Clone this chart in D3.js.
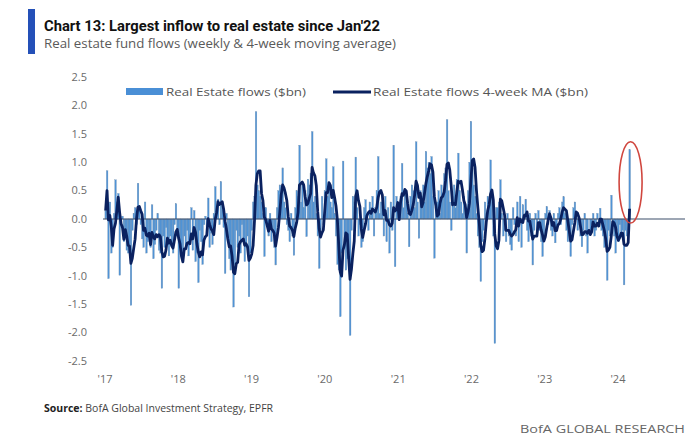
<!DOCTYPE html>
<html><head><meta charset="utf-8">
<script src="https://cdn.jsdelivr.net/npm/d3@7"></script>
<style>body{margin:0;background:#fff}svg{display:block}</style>
</head><body><svg id="c" width="687" height="440"></svg>
<script>
// Weekly real estate fund flows ($bn), Jan 2017 - Feb 2024
const flows2017 = [0.15,0.85,-1.05,0.3,-0.6,-0.5,0.1,0.69,0.3,0.45,
  -0.99,-0.1,0.05,-0.4,-0.3,-0.55,-0.6,-0.45,-1.52,-0.2,
  0.1,0.2,-0.1,0.63,0.15,-0.1,-0.35,-0.5,0.3,-0.6,
  -0.4,-0.3,-0.5,0.25,-0.7,-0.45,-0.2,0.1,-0.55,-0.6,
  -1.22,-0.3,-0.5,-0.15,-0.4,-0.65,-0.3,-0.5,-0.6,-0.1,
  0.27,-0.3];
const flows2018 = [-1.22,-0.5,-0.6,-0.7,-0.3,-0.5,-0.2,-0.65,-0.4,0.2,
  -0.55,0.15,-0.75,-0.6,-1.12,-0.2,-0.4,-0.8,-0.1,0.05,
  -0.3,0.37,-0.5,-0.25,-0.45,0.1,0.57,0.2,0.35,-0.1,
  0.66,0.3,-0.15,-0.96,0.1,-0.4,-0.7,-0.9,-0.6,-1.55,
  -0.8,-0.2,-0.5,-0.3,-0.6,-0.1,-0.4,-0.75,-0.5,-0.3,
  -1.37,-0.6];
const flows2019 = [-0.2,0.3,0.4,1.89,0.6,0.5,0.4,0.3,0.1,-0.66,
  0.2,-0.1,-0.3,0.1,-0.4,-0.2,-0.5,-0.81,0.2,0.5,
  0.6,0.4,0.9,0.3,0.2,-0.1,-0.2,-0.4,0.1,-0.3,
  -0.64,0.2,0.5,0.4,1.3,0.3,0.6,0.2,0.5,-0.31,
  0.7,0.6,0.8,1.54,0.3,0.4,0.1,-0.3,-0.87,-0.2,
  0.4,-0.1];
const flows2020 = [0.5,1.06,0.4,0.6,0.3,0.2,0.92,0.1,-0.3,-0.8,
  -0.9,-1.72,-0.6,1.02,-0.5,-0.9,-0.7,-0.6,-2.05,-0.2,
  0.4,0.3,1.09,0.2,-0.3,-0.1,-0.5,-0.4,0.2,0.34,
  0.1,-0.2,0.3,0.2,0.4,-0.3,0.2,0.5,1.1,0.1,
  0.3,0.2,-0.3,0.4,-0.4,0.2,-0.6,0.3,-0.2,1.3,
  -0.84,0.4];
const flows2021 = [0.3,0.1,0.4,0.98,0.2,0.5,0.3,0.1,-0.49,0.4,
  0.6,0.5,0.2,1.36,0.3,-0.34,0.5,0.4,0.6,0.3,
  1.19,0.9,1.0,0.8,1.1,0.4,-0.69,0.2,0.3,0.5,
  0.1,0.6,0.4,0.8,0.9,1.75,0.5,0.3,-0.2,0.4,
  0.6,0.2,0.7,1.16,0.5,0.3,0.1,0.4,0.2,-0.6,
  0.5,1.0];
const flows2022 = [1.72,0.9,0.6,0.4,0.1,-0.3,-0.5,-1.1,-0.4,-0.2,
  0.3,0.1,0.4,0.2,1.04,0.4,-0.3,-2.19,0.2,0.2,
  0.3,0.69,0.1,-0.3,-0.2,-0.4,0.1,-0.3,-0.45,-0.55,
  0.2,-0.1,-0.3,0.3,-0.4,0.4,-0.5,0.25,0.1,0.35,
  -0.2,-0.4,0.1,-0.3,-0.81,-0.2,0.1,-0.3,0.15,-0.2,
  -0.4,-0.66];
const flows2023 = [-0.3,0.1,0.22,-0.1,0.15,-0.2,-0.3,0.1,-0.42,-0.2,
  0.1,0.2,-0.1,0.3,0.39,0.1,-0.2,-0.4,-0.3,-0.66,
  -0.1,0.2,0.3,0.1,-0.2,-0.1,-0.3,-0.49,-0.2,0.1,
  -0.3,-0.6,0.0,-0.2,-0.1,0.1,-0.3,-0.2,0.1,-0.1,
  0.19,-0.2,-0.3,-0.5,-0.4,-1.08,-0.2,-0.3,0.42,-0.1,
  -0.3,-0.6];
const flows2024 = [-0.2,-0.4,-0.1,-0.3,-0.2,-1.16,-0.2,-0.3,0.0,1.22];

const yTicks = [2.5,2.0,1.5,1.0,0.5,0.0,-0.5,-1.0,-1.5,-2.0,-2.5];
const yTickLabels = ["2.5","2.0","1.5","1.0","0.5","0.0","-0.5","-1.0","-1.5","-2.0","-2.5"];
const xTickYears = [2017,2018,2019,2020,2021,2022,2023,2024];
const xTickLabels = ["'17","'18","'19","'20","'21","'22","'23","'24"];
const seriesNames = ["Real Estate flows ($bn)","Real Estate flows 4-week MA ($bn)"];

const flows = [].concat(flows2017,flows2018,flows2019,flows2020,flows2021,flows2022,flows2023,flows2024);
const startDate = new Date(2017,0,4);
const data = flows.map((v,i)=>({date:d3.timeDay.offset(startDate,7*i), v}));
data.forEach((d,i)=>{ d.ma = d3.mean(flows.slice(Math.max(0,i-3), i+1)); });

const svg = d3.select("#c");
const x = d3.scaleTime().domain([new Date(2017,0,1), new Date(2025,0,1)]).range([105, 691.4]);
const y = d3.scaleLinear().domain([-2.5,2.5]).range([361,77]);
const bw = x(d3.timeDay.offset(startDate,7)) - x(startDate);

// header
svg.append("rect").attr("x",28).attr("y",9).attr("width",7).attr("height",45).attr("fill","#2450b8");
svg.append("text").attr("x",44).attr("y",31).attr("font-family","Roboto, 'Open Sans', sans-serif")
  .attr("font-weight","bold").attr("font-size",14.5).attr("fill","#111")
  .attr("textLength",336).attr("lengthAdjust","spacingAndGlyphs")
  .text("Chart 13: Largest inflow to real estate since Jan'22");
svg.append("text").attr("x",44).attr("y",48).attr("font-family","'Open Sans', Roboto, sans-serif")
  .attr("font-size",13).attr("fill","#5a5a5a")
  .attr("textLength",352).attr("lengthAdjust","spacingAndGlyphs")
  .text("Real estate fund flows (weekly & 4-week moving average)");

// y tick labels
svg.append("g").selectAll("text").data(yTicks).join("text")
  .attr("x",87).attr("y",d=>y(d)).attr("dy","0.35em").attr("text-anchor","end")
  .attr("font-family","'Open Sans', Roboto, sans-serif").attr("font-size",11).attr("fill","#6a6a6a")
  .text((d,i)=>yTickLabels[i]);

// x tick labels
svg.append("g").selectAll("text").data(xTickYears).join("text")
  .attr("x",d=>x(new Date(d,0,1))).attr("y",383).attr("text-anchor","middle")
  .attr("font-family","'Open Sans', Roboto, sans-serif").attr("font-size",11).attr("fill","#6a6a6a")
  .text((d,i)=>xTickLabels[i]);

// bars
svg.append("g").selectAll("rect").data(data).join("rect")
  .attr("x",d=>x(d.date)-bw/2).attr("width",bw+0.25)
  .attr("y",d=>Math.min(y(0),y(d.v))).attr("height",d=>Math.abs(y(d.v)-y(0)))
  .attr("fill","#4f93d6").attr("stroke","#7894b2").attr("stroke-width",0.3);

// zero line
svg.append("line").attr("x1",103).attr("x2",685).attr("y1",y(0)).attr("y2",y(0))
  .attr("stroke","#3c4f6a").attr("stroke-width",1.2);

// MA line
const line = d3.line().x(d=>x(d.date)).y(d=>y(d.ma));
svg.append("path").datum(data).attr("d",line).attr("fill","none")
  .attr("stroke","#0a215f").attr("stroke-width",2.8).attr("stroke-linejoin","round");

// red ellipse highlight around the last spike
const last = data[data.length-1];
svg.append("ellipse").attr("cx",x(last.date)+1).attr("cy",(y(last.v)+y(0))/2 - 2)
  .attr("rx",11.5).attr("ry",(y(0)-y(last.v))/2 + 6)
  .attr("fill","none").attr("stroke","#d0463e").attr("stroke-width",1.6);

// legend
const lg = svg.append("g").attr("font-family","'Open Sans', Roboto, sans-serif").attr("font-size",10.5).attr("fill","#555");
lg.append("rect").attr("x",126).attr("y",88).attr("width",37).attr("height",7).attr("fill","#4a8fd6");
lg.append("text").attr("x",166).attr("y",95.5).attr("textLength",140).attr("lengthAdjust","spacingAndGlyphs").text(seriesNames[0]);
lg.append("line").attr("x1",333).attr("x2",371).attr("y1",92).attr("y2",92).attr("stroke","#0a215f").attr("stroke-width",2.8);
lg.append("text").attr("x",373).attr("y",95.5).attr("textLength",215).attr("lengthAdjust","spacingAndGlyphs").text(seriesNames[1]);

// footer
const src = svg.append("text").attr("x",44).attr("y",412).attr("font-family","'Open Sans', Roboto, sans-serif")
  .attr("font-size",10.5).attr("fill","#444");
src.append("tspan").attr("font-weight","bold").attr("fill","#222").text("Source:");
src.append("tspan").text(" BofA Global Investment Strategy, EPFR");
svg.append("text").attr("x",685).attr("y",433).attr("text-anchor","end")
  .attr("font-family","'Open Sans', Roboto, sans-serif").attr("font-size",11.5).attr("fill","#666")
  .attr("textLength",165).attr("lengthAdjust","spacingAndGlyphs").text("BofA GLOBAL RESEARCH");
</script></body></html>
